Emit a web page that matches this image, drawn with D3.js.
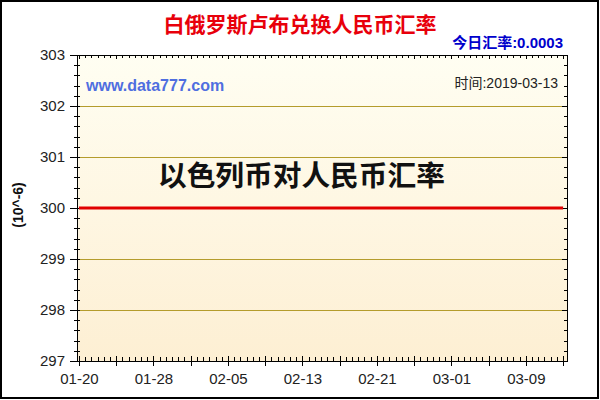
<!DOCTYPE html>
<html lang="zh">
<head>
<meta charset="utf-8" />
<title>白俄罗斯卢布兑换人民币汇率</title>
<style>
  body { margin: 0; background: #fff; }
  svg { display: block; font-family: "Liberation Sans", Arial, "Noto Sans CJK SC", sans-serif; }
  .tick text { fill: #222; }
</style>
</head>
<body>
<script src="https://cdn.jsdelivr.net/npm/d3@7"></script>
<script>
  const dates = [
    "2019-01-20","2019-01-21","2019-01-22","2019-01-23","2019-01-24","2019-01-25","2019-01-26",
    "2019-01-27","2019-01-28","2019-01-29","2019-01-30","2019-01-31","2019-02-01","2019-02-02",
    "2019-02-03","2019-02-04","2019-02-05","2019-02-06","2019-02-07","2019-02-08","2019-02-09",
    "2019-02-10","2019-02-11","2019-02-12","2019-02-13","2019-02-14","2019-02-15","2019-02-16",
    "2019-02-17","2019-02-18","2019-02-19","2019-02-20","2019-02-21","2019-02-22","2019-02-23",
    "2019-02-24","2019-02-25","2019-02-26","2019-02-27","2019-02-28","2019-03-01","2019-03-02",
    "2019-03-03","2019-03-04","2019-03-05","2019-03-06","2019-03-07","2019-03-08","2019-03-09",
    "2019-03-10","2019-03-11","2019-03-12","2019-03-13"
  ];
  // rate in units of 10^-6
  const rates = [
    300,300,300,300,300,300,300, 300,300,300,300,300,300,300,
    300,300,300,300,300,300,300, 300,300,300,300,300,300,300,
    300,300,300,300,300,300,300, 300,300,300,300,300,300,300,
    300,300,300,300,300,300,300, 300,300,300,300
  ];
  const xLabels = ["01-20","01-28","02-05","02-13","02-21","03-01","03-09"];
  const yTicks = [297, 298, 299, 300, 301, 302, 303];

  const width = 600, height = 400;
  const plot = {left: 77, right: 567, top: 55, bottom: 361};

  const parse = d3.timeParse("%Y-%m-%d");
  const data = dates.map((d, i) => ({date: parse(d), value: rates[i]}));
  const first = data[0].date, last = data[data.length - 1].date;

  const x = d3.scaleTime()
    .domain([d3.timeHour.offset(first, -5), d3.timeHour.offset(last, 10)])
    .range([plot.left, plot.right]);
  const y = d3.scaleLinear()
    .domain([297, 303])
    .range([plot.bottom, plot.top]);

  const svg = d3.select("body").append("svg")
    .attr("width", width)
    .attr("height", height);

  const defs = svg.append("defs");
  const grad = defs.append("linearGradient")
    .attr("id", "bg").attr("x1", 0).attr("y1", 0).attr("x2", 0).attr("y2", 1);
  grad.append("stop").attr("offset", "0%").attr("stop-color", "#fffef2");
  grad.append("stop").attr("offset", "100%").attr("stop-color", "#fdefd3");

  // outer frame
  svg.append("rect")
    .attr("x", 1).attr("y", 1)
    .attr("width", 597).attr("height", 397)
    .attr("fill", "#fff").attr("stroke", "#000").attr("stroke-width", 2);

  // plot background
  svg.append("rect")
    .attr("x", plot.left).attr("y", plot.top)
    .attr("width", plot.right - plot.left).attr("height", plot.bottom - plot.top)
    .attr("fill", "url(#bg)");

  // grid lines
  svg.append("g")
    .selectAll("line")
    .data(yTicks.slice(1, -1))
    .join("line")
    .attr("x1", plot.left).attr("x2", plot.right)
    .attr("y1", d => Math.round(y(d)) + 0.5).attr("y2", d => Math.round(y(d)) + 0.5)
    .attr("stroke", "#b49c2c").attr("stroke-width", 1);

  // minor tick positions
  const yMinor = d3.range(297, 303.001, 0.2).filter(v => Math.abs(v - Math.round(v)) > 0.01);
  const xMajor = d3.timeDay.range(first, d3.timeDay.offset(last, 1), 4);
  const xMinor = d3.timeHour.range(first, d3.timeHour.offset(last, 10), 16)
    .filter(d => !xMajor.some(m => +m === +d));
  const xLabelDates = xLabels.map(s => parse("2019-" + s));

  const axisG = svg.append("g").attr("shape-rendering", "crispEdges");

  function tickLines(vals, pos, x1, x2, vertical) {
    axisG.append("g").selectAll("line").data(vals).join("line")
      .attr(vertical ? "y1" : "x1", d => Math.round(pos(d)) + 0.5)
      .attr(vertical ? "y2" : "x2", d => Math.round(pos(d)) + 0.5)
      .attr(vertical ? "x1" : "y1", x1)
      .attr(vertical ? "x2" : "y2", x2)
      .attr("stroke", "#000");
  }

  // left axis
  axisG.append("g")
    .attr("transform", `translate(${plot.left},0)`)
    .call(d3.axisLeft(y).tickValues(yTicks).tickFormat(d3.format("d")).tickSize(7).tickPadding(5))
    .call(g => g.selectAll("text").attr("font-size", 15))
    .call(g => g.select(".domain").remove());
  tickLines(yMinor, y, plot.left - 3, plot.left + 3, true);
  tickLines(yTicks, y, plot.left, plot.left + 3, true);

  // right axis ticks (inward)
  tickLines(yTicks, y, plot.right - 5, plot.right, true);
  tickLines(yMinor, y, plot.right - 3, plot.right, true);

  // bottom axis
  axisG.append("g")
    .attr("transform", `translate(0,${plot.bottom})`)
    .call(d3.axisBottom(x).tickValues(xLabelDates).tickFormat(d3.timeFormat("%m-%d")).tickSize(0).tickPadding(12))
    .call(g => g.selectAll("text").attr("font-size", 15))
    .call(g => g.select(".domain").remove());
  tickLines(xMajor, x, plot.bottom - 5, plot.bottom + 5, false);
  tickLines(xMinor, x, plot.bottom - 4, plot.bottom, false);

  // top axis ticks (inward)
  tickLines(xMajor, x, plot.top, plot.top + 4, false);
  tickLines(xMinor, x, plot.top, plot.top + 3, false);

  // frame
  axisG.append("rect")
    .attr("x", plot.left + 0.5).attr("y", plot.top + 0.5)
    .attr("width", plot.right - plot.left).attr("height", plot.bottom - plot.top)
    .attr("fill", "none").attr("stroke", "#000");

  // series line
  const line = d3.line().x(d => x(d.date)).y(d => y(d.value));
  svg.append("path")
    .datum(data)
    .attr("d", line)
    .attr("fill", "none")
    .attr("stroke", "#e00000")
    .attr("stroke-width", 3);

  // texts
  svg.append("text")
    .attr("x", 300).attr("y", 32)
    .attr("text-anchor", "middle")
    .attr("font-size", 21).attr("font-weight", "bold")
    .attr("fill", "#e8000b")
    .text("白俄罗斯卢布兑换人民币汇率");

  svg.append("text")
    .attr("x", 563).attr("y", 48)
    .attr("text-anchor", "end")
    .attr("font-size", 15).attr("font-weight", "bold")
    .attr("fill", "#0000cc")
    .text("今日汇率:0.0003");

  svg.append("text")
    .attr("x", 86).attr("y", 91)
    .attr("font-size", 16).attr("font-weight", "bold")
    .attr("fill", "#4f6ee0")
    .text("www.data777.com");

  svg.append("text")
    .attr("x", 558).attr("y", 88)
    .attr("text-anchor", "end")
    .attr("font-size", 14)
    .attr("fill", "#222")
    .text("时间:2019-03-13");

  svg.append("text")
    .attr("x", 158).attr("y", 186)
    .attr("font-size", 28.7).attr("font-weight", "bold")
    .attr("fill", "#111")
    .text("以色列币对人民币汇率");

  svg.append("text")
    .attr("transform", "translate(23,205) rotate(-90)")
    .attr("text-anchor", "middle")
    .attr("font-size", 14).attr("font-weight", "bold")
    .attr("fill", "#111")
    .text("(10^-6)");
</script>
</body>
</html>
